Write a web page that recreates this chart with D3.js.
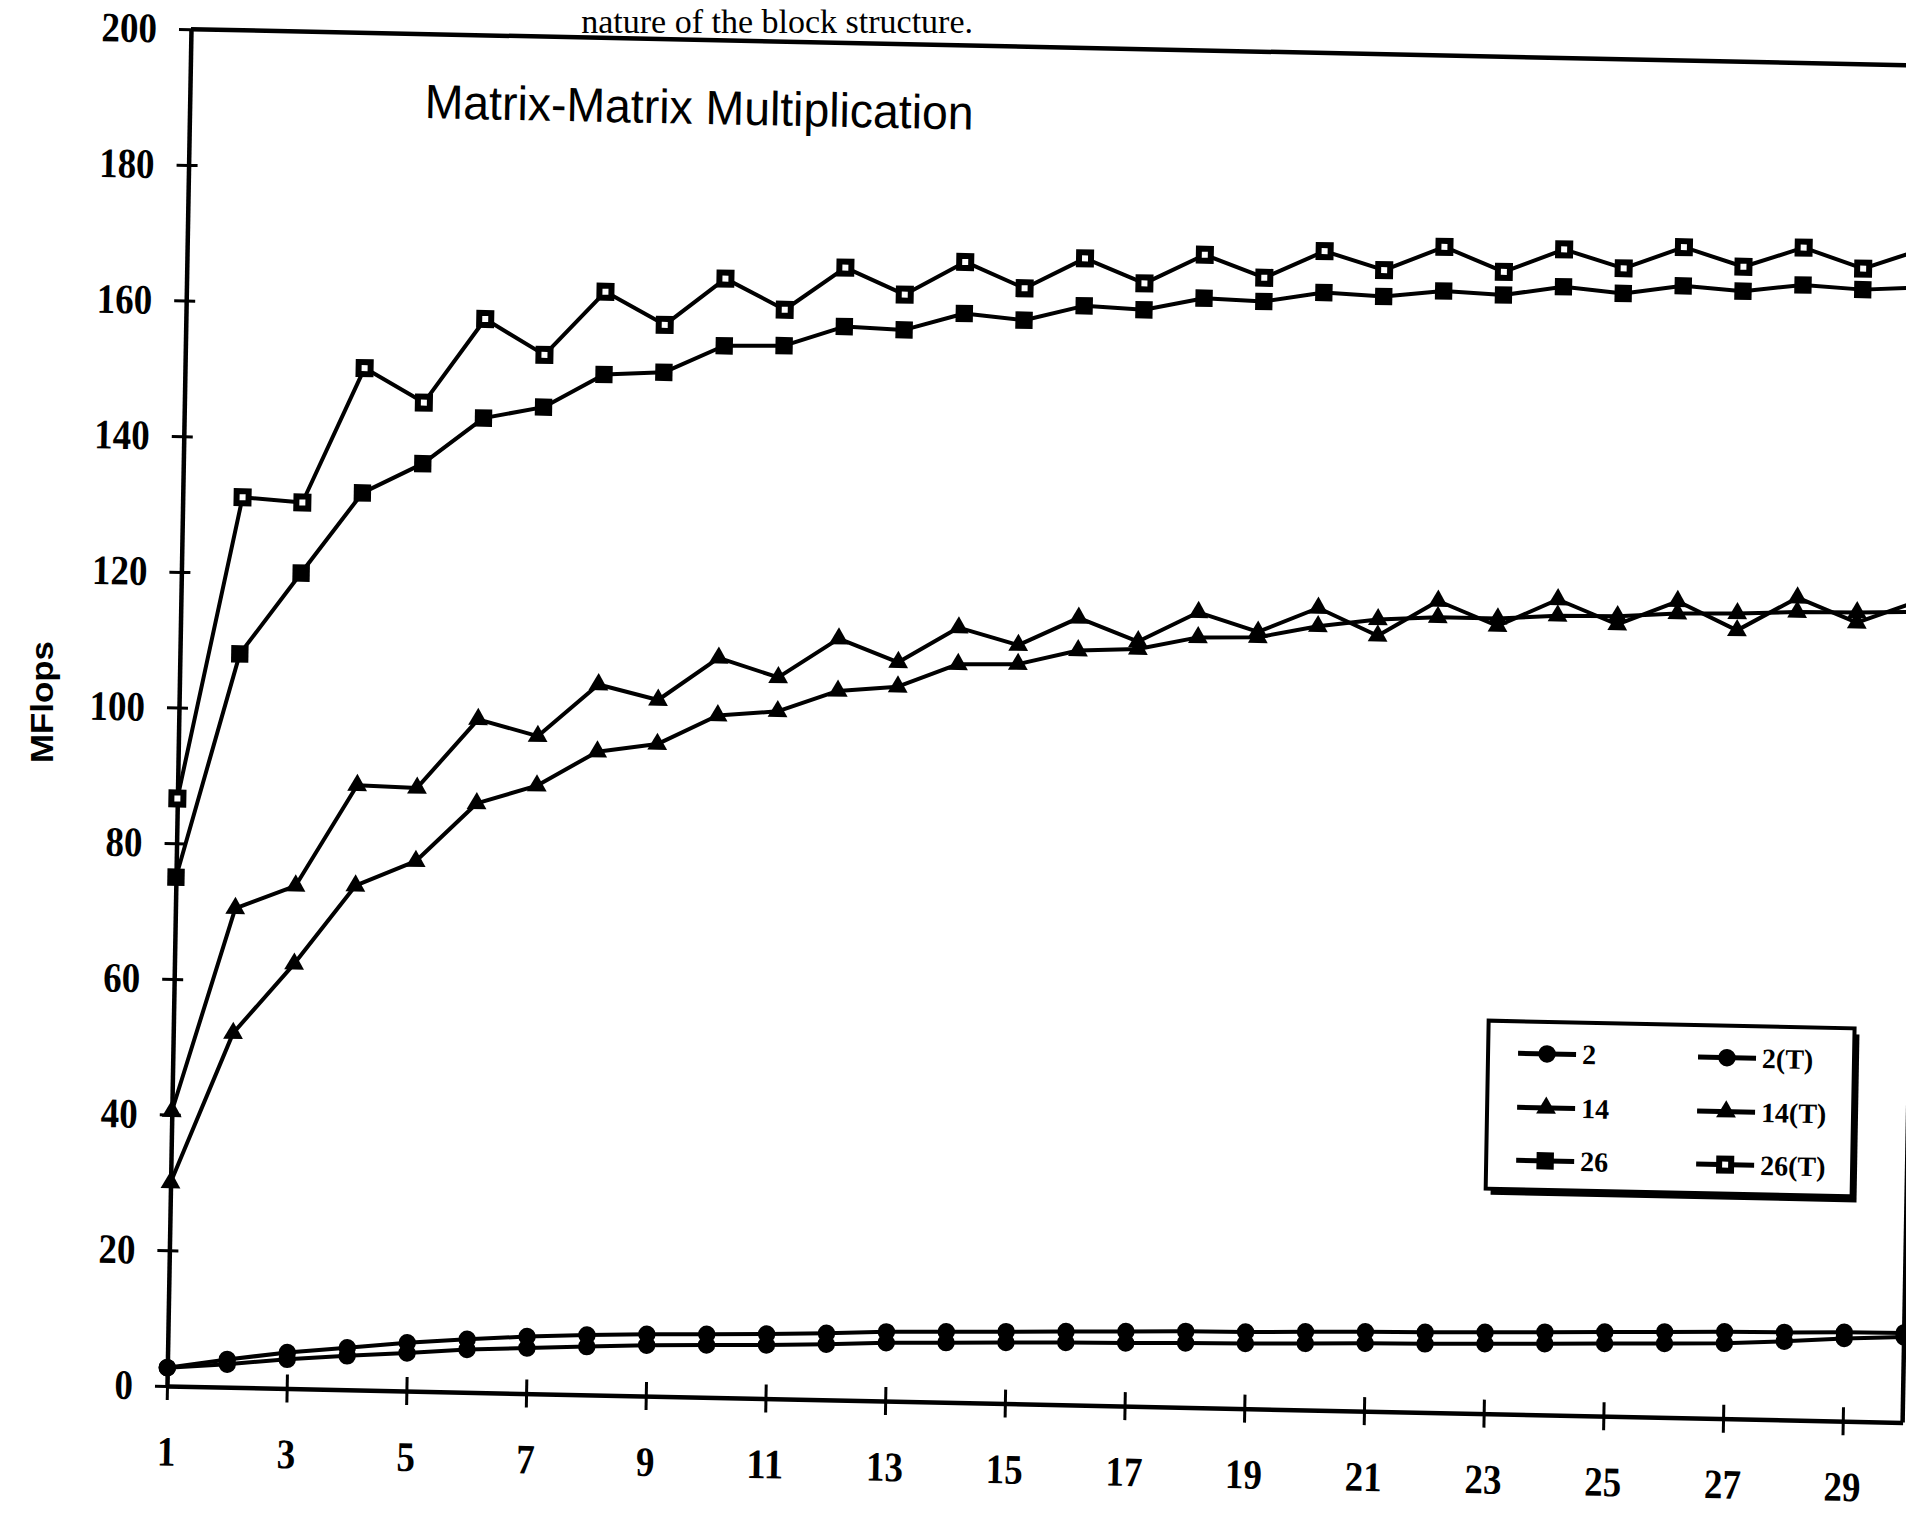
<!DOCTYPE html>
<html>
<head>
<meta charset="utf-8">
<script src="https://cdn.jsdelivr.net/npm/d3@7"></script>
<style>
  html, body { margin: 0; padding: 0; background: #fff; overflow: hidden; }
  svg { display: block; }
</style>
</head>
<body>
<svg id="chart" width="1906" height="1518"></svg>
<script>
// ---------------- data ----------------
const blockSizes = [1,2,3,4,5,6,7,8,9,10,11,12,13,14,15,16,17,18,19,20,21,22,23,24,25,26,27,28,29,30];

const mflops2   = [2.7,3.4,4.3,5.0,5.6,6.3,6.7,7.1,7.5,7.7,7.9,8.2,8.6,8.8,9.0,9.2,9.3,9.5,9.6,9.8,10.0,10.1,10.3,10.5,10.7,10.9,11.1,11.6,12.2,12.6];
const mflops2T  = [2.7,4.1,5.3,6.2,7.1,7.8,8.4,8.8,9.1,9.3,9.5,9.8,10.2,10.4,10.6,10.8,11.0,11.2,11.3,11.5,11.7,11.8,12.0,12.2,12.4,12.6,12.8,12.9,13.1,13.2];
const mflops14  = [30.0,52.2,62.6,74.3,78.1,86.8,89.6,94.8,96.1,100.5,101.3,104.5,105.3,108.8,109.0,111.2,111.6,113.5,113.7,115.5,116.7,117.2,117.2,117.8,117.9,118.5,118.7,119.1,119.2,119.5];
const mflops14T = [40.5,70.6,74.1,89.1,88.9,99.2,96.9,104.7,102.6,109.0,106.3,112.2,108.9,114.2,111.8,116.0,112.7,117.2,114.5,118.2,114.3,119.6,116.1,120.2,116.7,120.3,116.2,121.2,117.7,121.0];
const mflops26  = [75.0,108.1,120.2,132.2,136.7,143.6,145.4,150.4,150.9,155.0,155.2,158.2,157.9,160.5,159.7,162.0,161.6,163.5,163.2,164.7,164.3,165.3,164.9,166.3,165.5,166.8,166.2,167.3,166.8,167.3];
const mflops26T = [86.6,131.2,130.6,150.6,145.7,158.2,153.1,162.6,157.9,164.9,160.5,166.9,163.1,168.1,164.4,169.0,165.5,169.9,166.7,170.8,168.2,171.8,168.3,171.8,169.2,172.5,169.8,172.8,169.9,173.0];

const seriesNames  = ["2", "14", "26", "2(T)", "14(T)", "26(T)"];
const seriesValues = [mflops2, mflops14, mflops26, mflops2T, mflops14T, mflops26T];
const seriesShapes = ["circle", "triangle", "square", "circle", "triangle", "openSquare"];

const yTickValues = [0,20,40,60,80,100,120,140,160,180,200];
const xTickValues = [1,3,5,7,9,11,13,15,17,19,21,23,25,27,29];

const titleText  = "Matrix-Matrix Multiplication";
const yLabelText = "MFlops";
const topLineText = "nature of the block structure.";

// ---------------- layout ----------------
const svg = d3.select("#chart");
const W = 1736, H = 1357;

const x = d3.scaleLinear().domain([1, 30]).range([0, W]);
const y = d3.scaleLinear().domain([0, 200]).range([H, 0]);

// the scanned figure is slightly rotated/skewed
const g = svg.append("g")
  .attr("transform", "matrix(0.99978,0.021,-0.0177,0.99984,191,29.2)");

const ink = "#000";

// body text line at the very top
svg.append("text")
  .attr("x", 973).attr("y", 33)
  .attr("text-anchor", "end")
  .attr("font-family", "Liberation Serif, serif")
  .attr("font-size", 34)
  .attr("fill", ink)
  .text(topLineText);

// y axis label
svg.append("text")
  .attr("transform", "translate(42,702) rotate(-90)")
  .attr("text-anchor", "middle")
  .attr("dominant-baseline", "central")
  .attr("font-family", "Liberation Sans, Arial, sans-serif")
  .attr("font-weight", "bold")
  .attr("font-size", 31)
  .attr("textLength", 122)
  .attr("lengthAdjust", "spacingAndGlyphs")
  .attr("fill", ink)
  .text(yLabelText);

// frame: top and right borders
g.append("line")
  .attr("x1", x(1)).attr("y1", y(200)).attr("x2", x(30)).attr("y2", y(200))
  .attr("stroke", ink).attr("stroke-width", 4.5);
g.append("line")
  .attr("x1", x(30)).attr("y1", y(200)).attr("x2", x(30)).attr("y2", y(0))
  .attr("stroke", ink).attr("stroke-width", 4.5);

function styleLabels(sel, perChar) {
  sel.selectAll("text")
    .attr("font-family", "Liberation Serif, Times New Roman, serif")
    .attr("font-weight", "bold")
    .attr("font-size", 42)
    .attr("fill", ink)
    .attr("textLength", function() { return this.textContent.length * perChar; })
    .attr("lengthAdjust", "spacingAndGlyphs");
}

// y axis
const yAxis = g.append("g")
  .call(d3.axisLeft(y).tickValues(yTickValues).tickSizeInner(12).tickSizeOuter(0).tickPadding(22));
yAxis.select(".domain").attr("stroke", ink).attr("stroke-width", 4.5);
yAxis.selectAll(".tick line").attr("stroke", ink).attr("stroke-width", 3);
styleLabels(yAxis, 18.5);

const yAxisIn = g.append("g")
  .call(d3.axisRight(y).tickValues(yTickValues.filter(v => v > 0 && v < 200)).tickSize(9).tickFormat(""));
yAxisIn.select(".domain").remove();
yAxisIn.selectAll(".tick line").attr("stroke", ink).attr("stroke-width", 3);

// x axis
const xAxis = g.append("g")
  .attr("transform", `translate(0,${H})`)
  .call(d3.axisBottom(x).tickValues(xTickValues).tickSizeInner(14).tickSizeOuter(0).tickPadding(36));
xAxis.select(".domain").attr("stroke", ink).attr("stroke-width", 4.5);
xAxis.selectAll(".tick line").attr("stroke", ink).attr("stroke-width", 3);
styleLabels(xAxis, 18.5);

const xAxisIn = g.append("g")
  .attr("transform", `translate(0,${H})`)
  .call(d3.axisTop(x).tickValues(xTickValues).tickSize(14).tickFormat(""));
xAxisIn.select(".domain").remove();
xAxisIn.selectAll(".tick line").attr("stroke", ink).attr("stroke-width", 3);

// title
g.append("text")
  .attr("x", 235).attr("y", 84)
  .attr("font-family", "Liberation Sans, Arial, sans-serif")
  .attr("font-size", 48)
  .attr("textLength", 549)
  .attr("lengthAdjust", "spacingAndGlyphs")
  .attr("fill", ink)
  .text(titleText);

// markers
function drawMarker(sel, shape, cx, cy) {
  if (shape === "circle") {
    sel.append("path").attr("transform", `translate(${cx},${cy})`)
      .attr("d", d3.symbol(d3.symbolCircle, 240)()).attr("fill", ink);
  } else if (shape === "triangle") {
    sel.append("path").attr("transform", `translate(${cx},${cy})`)
      .attr("d", d3.symbol(d3.symbolTriangle, 170)()).attr("fill", ink);
  } else if (shape === "square") {
    sel.append("path").attr("transform", `translate(${cx},${cy})`)
      .attr("d", d3.symbol(d3.symbolSquare, 300)()).attr("fill", ink);
  } else {
    sel.append("path").attr("transform", `translate(${cx},${cy})`)
      .attr("d", d3.symbol(d3.symbolSquare, 144)())
      .attr("fill", "#fff").attr("stroke", ink).attr("stroke-width", 6);
  }
}

const line = d3.line().x(d => x(d.bs)).y(d => y(d.v));

seriesValues.forEach((vals, i) => {
  const pts = blockSizes.map((bs, j) => ({ bs, v: vals[j] }));
  g.append("path")
    .datum(pts)
    .attr("d", line)
    .attr("fill", "none")
    .attr("stroke", ink)
    .attr("stroke-width", 4)
    .attr("stroke-linejoin", "round");
});
seriesValues.forEach((vals, i) => {
  const mg = g.append("g");
  blockSizes.forEach((bs, j) => drawMarker(mg, seriesShapes[i], x(bs), y(vals[j])));
});

// legend
const lg = g.append("g").attr("transform", "translate(1315,964)");
lg.append("rect").attr("x", 5).attr("y", 6).attr("width", 366).attr("height", 168).attr("fill", ink);
lg.append("rect").attr("x", 0).attr("y", 0).attr("width", 366).attr("height", 168)
  .attr("fill", "#fff").attr("stroke", ink).attr("stroke-width", 4);

const legendCols = [0, 180];
const legendRows = [32, 86, 139];
seriesNames.forEach((name, i) => {
  const cx = legendCols[Math.floor(i / 3)];
  const cy = legendRows[i % 3];
  lg.append("line")
    .attr("x1", cx + 30).attr("y1", cy).attr("x2", cx + 88).attr("y2", cy)
    .attr("stroke", ink).attr("stroke-width", 5);
  drawMarker(lg, seriesShapes[i], cx + 59, cy);
  lg.append("text")
    .attr("x", cx + 94).attr("y", cy)
    .attr("dominant-baseline", "central")
    .attr("font-family", "Liberation Serif, Times New Roman, serif")
    .attr("font-weight", "bold")
    .attr("font-size", 28)
    .attr("fill", ink)
    .text(name);
});
</script>
</body>
</html>
